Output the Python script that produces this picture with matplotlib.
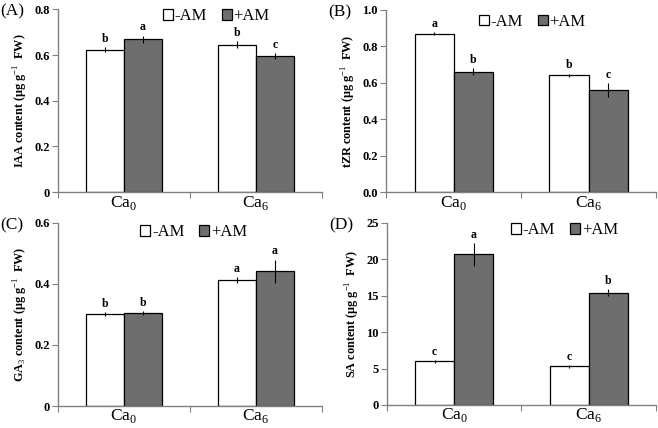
import numpy as np
import matplotlib.pyplot as plt

plt.rcParams['font.family'] = ['Liberation Serif', 'DejaVu Serif']
plt.rcParams['mathtext.fontset'] = 'custom'
plt.rcParams['mathtext.rm'] = 'Liberation Serif'
plt.rcParams['mathtext.bf'] = 'Liberation Serif:bold'

# Data
groups = ['Ca$_0$', 'Ca$_6$']

iaa_minus = [0.624, 0.645]
iaa_plus = [0.670, 0.596]
iaa_minus_err = [0.012, 0.015]
iaa_plus_err = [0.015, 0.012]
iaa_minus_let = ['b', 'b']
iaa_plus_let = ['a', 'c']

tzr_minus = [0.870, 0.640]
tzr_plus = [0.660, 0.560]
tzr_minus_err = [0.010, 0.010]
tzr_plus_err = [0.020, 0.040]
tzr_minus_let = ['a', 'b']
tzr_plus_let = ['b', 'c']

ga_minus = [0.302, 0.413]
ga_plus = [0.304, 0.442]
ga_minus_err = [0.006, 0.010]
ga_plus_err = [0.006, 0.038]
ga_minus_let = ['b', 'a']
ga_plus_let = ['b', 'a']

sa_minus = [6.0, 5.3]
sa_plus = [20.7, 15.4]
sa_minus_err = [0.2, 0.2]
sa_plus_err = [1.55, 0.5]
sa_minus_let = ['c', 'c']
sa_plus_let = ['a', 'b']

fig = plt.figure(figsize=(6.58, 4.28), dpi=100)

panels = [
    ('(A)', [0.088, 0.551, 0.401, 0.427], iaa_minus, iaa_plus, iaa_minus_err, iaa_plus_err,
     iaa_minus_let, iaa_plus_let, r'IAA content ($\mathbf{\mu}$g g$^{-1}$  FW)',
     (0, 0.8), [0, 0.2, 0.4, 0.6, 0.8], ['0', '0.2', '0.4', '0.6', '0.8'], (0.60, 0.963)),
    ('(B)', [0.587, 0.551, 0.410, 0.426], tzr_minus, tzr_plus, tzr_minus_err, tzr_plus_err,
     tzr_minus_let, tzr_plus_let, r'tZR content ($\mathbf{\mu}$g g$^{-1}$  FW)',
     (0, 1.0), [0, 0.2, 0.4, 0.6, 0.8, 1.0], ['0.0', '0.2', '0.4', '0.6', '0.8', '1.0'],
     (0.54, 0.935)),
    ('(C)', [0.088, 0.0514, 0.401, 0.4276], ga_minus, ga_plus, ga_minus_err, ga_plus_err,
     ga_minus_let, ga_plus_let, r'GA$_3$ content ($\mathbf{\mu}$g g$^{-1}$  FW)',
     (0, 0.6), [0, 0.2, 0.4, 0.6], ['0', '0.2', '0.4', '0.6'], (0.515, 0.95)),
    ('(D)', [0.588, 0.054, 0.409, 0.425], sa_minus, sa_plus, sa_minus_err, sa_plus_err,
     sa_minus_let, sa_plus_let, r'SA content ($\mathbf{\mu}$g g$^{-1}$  FW)',
     (0, 25), [0, 5, 10, 15, 20, 25], ['0', '5', '10', '15', '20', '25'], (0.66, 0.96)),
]

x = np.arange(len(groups))
w = 0.29

for (tag, pos, mvals, pvals, merr, perr, mlet, plet, ylab, ylim, yt, ytl, legpos) in panels:
    ax = fig.add_axes(pos)
    b1 = ax.bar(x - w / 2, mvals, w, color='white', edgecolor='black', linewidth=0.9,
                label='-AM')
    b2 = ax.bar(x + w / 2, pvals, w, color='#6e6e6e', edgecolor='black', linewidth=0.9,
                label='+AM')
    ax.errorbar(x - w / 2, mvals, yerr=merr, fmt='none', ecolor='black', elinewidth=0.8,
                capsize=0)
    ax.errorbar(x + w / 2, pvals, yerr=perr, fmt='none', ecolor='black', elinewidth=0.8,
                capsize=0)
    off = (ylim[1] - ylim[0]) * 0.012
    for xi, v, e, t in zip(x - w / 2, mvals, merr, mlet):
        ax.text(xi, v + e + off, t, ha='center', va='bottom', fontsize=8.5, fontweight='bold')
    for xi, v, e, t in zip(x + w / 2, pvals, perr, plet):
        ax.text(xi, v + e + off, t, ha='center', va='bottom', fontsize=8.5, fontweight='bold')

    ax.set_xlim(-0.5, 1.5)
    ax.set_ylim(*ylim)
    ax.set_yticks(yt)
    ax.set_yticklabels(ytl, fontsize=9, fontweight='bold')
    ax.set_xticks([-0.5, 0.5, 1.5])
    ax.set_xticklabels([])
    ax.set_xticks(x, minor=True)
    ax.set_xticklabels(groups, minor=True, fontsize=12.5)
    ax.tick_params(axis='x', which='minor', length=0, pad=1)
    ax.tick_params(axis='x', which='major', length=4, direction='out', color='gray')
    ax.tick_params(axis='y', length=4, direction='out', color='gray', pad=2)
    for s in ['top', 'right']:
        ax.spines[s].set_visible(False)
    for s in ['left', 'bottom']:
        ax.spines[s].set_color('gray')
        ax.spines[s].set_linewidth(1.0)
    ax.set_ylabel(ylab, fontsize=8.8, fontweight='bold', labelpad=3)

    ax.legend(handles=[b1, b2], loc='center', bbox_to_anchor=legpos,
              ncol=2, frameon=False, fontsize=12, handlelength=0.6, handleheight=0.6,
              handletextpad=0.1, columnspacing=0.9, borderaxespad=0, borderpad=0)
    fig.text(pos[0] - 0.088, pos[1] + pos[3] - 0.005, tag, fontsize=12.5, va='center',
             ha='left')

plt.savefig('out.png', dpi=100)
